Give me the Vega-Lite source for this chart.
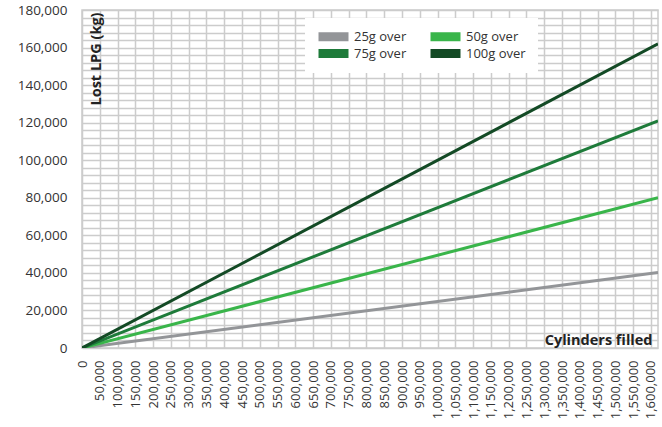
{
  "$schema": "https://vega.github.io/schema/vega-lite/v6.json",
  "width": 576,
  "height": 338,
  "autosize": {"type": "none"},
  "padding": {"left": 82, "top": 10, "right": 4, "bottom": 79},
  "background": "white",
  "config": {
    "font": "Open Sans",
    "view": {"stroke": "#cccccc", "strokeWidth": 1.5},
    "axis": {"labelFont": "Open Sans", "titleFont": "Open Sans"}
  },
  "data": {
    "values": [
      {"series": "25g over", "cylinders": 0, "lost": 0},
      {"series": "25g over", "cylinders": 1620000, "lost": 40200},
      {"series": "50g over", "cylinders": 0, "lost": 0},
      {"series": "50g over", "cylinders": 1620000, "lost": 80000},
      {"series": "75g over", "cylinders": 0, "lost": 0},
      {"series": "75g over", "cylinders": 1620000, "lost": 121000},
      {"series": "100g over", "cylinders": 0, "lost": 0},
      {"series": "100g over", "cylinders": 1620000, "lost": 162000}
    ]
  },
  "mark": {"type": "line", "strokeWidth": 3, "clip": true},
  "encoding": {
    "x": {
      "field": "cylinders",
      "type": "quantitative",
      "scale": {"domain": [0, 1620000], "nice": false, "zero": true},
      "axis": {
        "title": "Cylinders filled",
        "titleX": 570,
        "titleY": -8,
        "titleAlign": "right",
        "titleBaseline": "middle",
        "titleFontSize": 14.5,
        "titleFontWeight": "bold",
        "titleColor": "#222222",
        "values": [0, 50000, 100000, 150000, 200000, 250000, 300000, 350000, 400000, 450000, 500000, 550000, 600000, 650000, 700000, 750000, 800000, 850000, 900000, 950000, 1000000, 1050000, 1100000, 1150000, 1200000, 1250000, 1300000, 1350000, 1400000, 1450000, 1500000, 1550000, 1600000],
        "format": ",d",
        "labelAngle": 270,
        "labelAlign": "right",
        "labelBaseline": "middle",
        "labelPadding": 12,
        "labelFontSize": 13,
        "labelColor": "#333333",
        "labelFlush": false,
        "labelOverlap": false,
        "labelBound": false,
        "ticks": false,
        "domain": false,
        "grid": true,
        "gridColor": "#cccccc",
        "gridWidth": 1.5
      }
    },
    "y": {
      "field": "lost",
      "type": "quantitative",
      "scale": {"domain": [0, 180000], "nice": false},
      "axis": {
        "title": "Lost LPG (kg)",
        "titleX": 14,
        "titleY": 2,
        "titleAngle": 270,
        "titleAlign": "right",
        "titleBaseline": "middle",
        "titleFontSize": 14.5,
        "titleFontWeight": "bold",
        "titleColor": "#222222",
        "values": [0, 4000, 8000, 12000, 16000, 20000, 24000, 28000, 32000, 36000, 40000, 44000, 48000, 52000, 56000, 60000, 64000, 68000, 72000, 76000, 80000, 84000, 88000, 92000, 96000, 100000, 104000, 108000, 112000, 116000, 120000, 124000, 128000, 132000, 136000, 140000, 144000, 148000, 152000, 156000, 160000, 164000, 168000, 172000, 176000, 180000],
        "labelExpr": "datum.value % 20000 === 0 ? format(datum.value, ',d') : ''",
        "labelPadding": 15,
        "labelFontSize": 13.5,
        "labelColor": "#333333",
        "labelFlush": false,
        "labelOverlap": false,
        "ticks": false,
        "domain": false,
        "grid": true,
        "gridColor": "#cccccc",
        "gridWidth": 1.5
      }
    },
    "color": {
      "field": "series",
      "type": "nominal",
      "sort": ["25g over", "50g over", "75g over", "100g over"],
      "scale": {
        "domain": ["25g over", "50g over", "75g over", "100g over"],
        "range": ["#939598", "#39b54a", "#1e7b3a", "#134a25"]
      },
      "legend": {
        "title": null,
        "orient": "none",
        "direction": "horizontal",
        "legendX": 223,
        "legendY": 8,
        "columns": 2,
        "columnPadding": 22,
        "rowPadding": 3,
        "padding": 12,
        "fillColor": "white",
        "labelFontSize": 13,
        "labelColor": "#333333",
        "labelOffset": 14,
        "symbolType": "M-3,-0.9H3V0.9H-3Z",
        "symbolSize": 100,
        "symbolStrokeWidth": 0,
        "symbolOffset": 10,
        "encode": {
          "symbols": {
            "update": {
              "fill": {"scale": "color", "field": "value"},
              "strokeWidth": {"value": 0},
              "opacity": {"value": 1}
            }
          }
        }
      }
    }
  }
}
